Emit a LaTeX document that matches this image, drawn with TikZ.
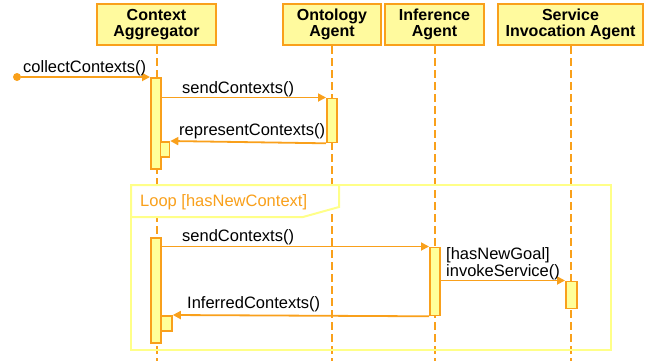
\documentclass[tikz,border=0pt]{standalone}
\usepackage{fontspec}
\setmainfont{Liberation Sans}
\usetikzlibrary{arrows.meta}
\definecolor{org}{HTML}{F9A01B}
\definecolor{boxfill}{HTML}{FFFA9E}
\definecolor{actfill}{HTML}{FFFF99}
\definecolor{framecol}{HTML}{FFFF88}
\tikzset{
  header/.style={draw=org, line width=2pt, fill=boxfill, inner sep=0pt, anchor=north west,
    font=\fontsize{16}{16}\selectfont\bfseries, align=center},
  lifeline/.style={draw=org, line width=2pt, dash pattern=on 8pt off 4pt},
  act/.style={draw=org, line width=1.8pt, fill=actfill, inner sep=0pt, anchor=north west},
  msg/.style={draw=org, line width=1.8pt, -{Triangle[length=8pt,width=8pt]}},
  lbl/.style={font=\fontsize{16.5}{17}\selectfont, inner sep=0pt, anchor=base west},
}
\begin{document}
\begin{tikzpicture}[x=1pt,y=-1pt]
\useasboundingbox (0,0) rectangle (655,360);
% headers
\node[header, minimum width=119pt, minimum height=41pt] (ca) at (96,3) {Context\\Aggregator};
\node[header, minimum width=98pt, minimum height=41pt] (oa) at (282,3) {Ontology\\Agent};
\node[header, minimum width=99pt, minimum height=41pt] (ia) at (384,3) {Inference\\Agent};
\node[header, minimum width=145pt, minimum height=41pt] (sa) at (497,3) {Service\\Invocation Agent};
% lifeline ends
\coordinate (caend) at (155.5,362);
\coordinate (oaend) at (331,362);
\coordinate (iaend) at (433.5,362);
\coordinate (saend) at (570,362);
\draw[lifeline] (ca.south) -- (ca.south |- caend);
\draw[lifeline] (oa.south) -- (oa.south |- oaend);
\draw[lifeline] (ia.south) -- (ia.south |- iaend);
\draw[lifeline] (sa.south) -- (sa.south |- saend);
% loop frame
\draw[framecol, line width=2pt] (131,185) rectangle (611,350);
\draw[framecol, line width=2pt, fill=white] (131,185) -- (339,185) -- (339,207) -- (303,217) -- (131,217) -- cycle;
\node[lbl, text=org] (looplbl) at (140,206) {Loop [hasNewContext]};
% activations
\node[act, minimum width=10pt, minimum height=91pt] (ca1) at (150,77) {};
\node[act, minimum width=9pt, minimum height=15pt] (ca1s) at (159.5,141) {};
\node[act, minimum width=10pt, minimum height=44pt] (oa1) at (326,97.5) {};
\node[act, minimum width=10pt, minimum height=105pt] (ca2) at (150,237) {};
\node[act, minimum width=11pt, minimum height=15pt] (ca2s) at (160,315) {};
\node[act, minimum width=10pt, minimum height=68pt] (ia1) at (429,246.5) {};
\node[act, minimum width=11pt, minimum height=27pt] (sa1) at (565,280.5) {};
% start dot
\node[circle, fill=org, inner sep=0pt, minimum size=8pt] (start) at (17,77) {};
% messages
\draw[msg] (start) -- (ca1.north west);
\draw[msg] (ca1.east |- oa1.north) -- (oa1.north west);
\draw[msg] (oa1.south west) -- (ca1s.north east);
\draw[msg] (ca2.east |- ia1.north) -- (ia1.north west);
\draw[msg] (ia1.east |- sa1.north) -- (sa1.north west);
\draw[msg] (ia1.south west) -- (ca2s.north east);
% labels
\node[lbl] (l1) at (23,72) {collectContexts()};
\node[lbl] (l2) at (182,93) {sendContexts()};
\node[lbl] (l3) at (179,135) {representContexts()};
\node[lbl] (l4) at (182,241) {sendContexts()};
\node[lbl] (l5) at (446,259) {[hasNewGoal]};
\node[lbl] (l6) at (446,276) {invokeService()};
\node[lbl] (l7) at (187,308) {InferredContexts()};
\end{tikzpicture}
\end{document}
